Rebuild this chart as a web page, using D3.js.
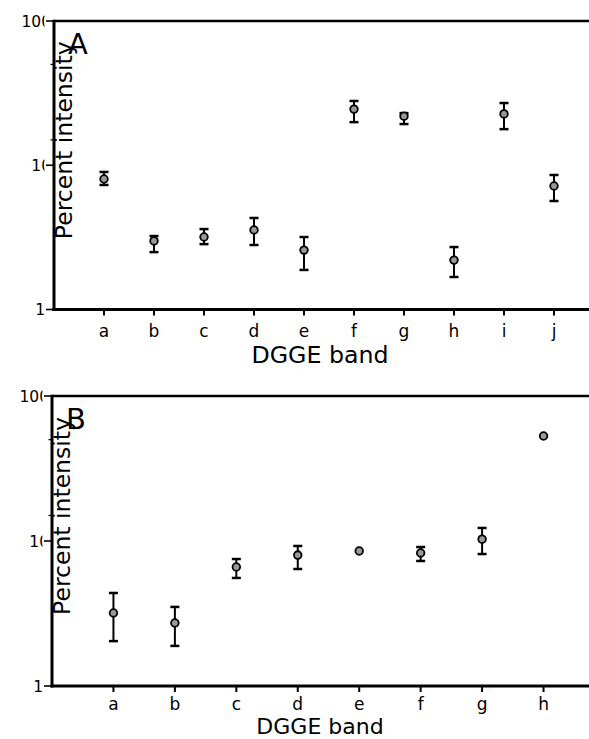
<!DOCTYPE html>
<html>
<head>
<meta charset="utf-8">
<script src="https://cdn.jsdelivr.net/npm/d3@7/dist/d3.min.js"></script>
<style>
  html, body { margin: 0; padding: 0; background: #fff; }
  svg { display: block; font-family: "DejaVu Sans", sans-serif; }
</style>
</head>
<body>
<svg id="chart" width="589" height="739"></svg>
<script>
// ---- data ----
const bandsA = ["a", "b", "c", "d", "e", "f", "g", "h", "i", "j"];
const meanA  = [8.03, 2.99, 3.18, 3.56, 2.58, 24.5, 21.9, 2.20, 22.7, 7.18];
const hiA    = [8.98, 3.23, 3.61, 4.31, 3.18, 27.9, 23.0, 2.71, 27.0, 8.56];
const loA    = [7.30, 2.50, 2.84, 2.80, 1.88, 19.9, 19.3, 1.68, 17.8, 5.65];

const bandsB = ["a", "b", "c", "d", "e", "f", "g", "h"];
const meanB  = [3.19, 2.72, 6.62, 8.00, 8.53, 8.27, 10.3, 53.0];
const hiB    = [4.38, 3.51, 7.51, 9.24, 8.53, 9.09, 12.3, 53.0];
const loB    = [2.04, 1.89, 5.56, 6.41, 8.53, 7.28, 8.13, 53.0];

const yTickValues = [1, 10, 100];
const yMinorTicks = [15, 50];
const panelLabels = ["A", "B"];
const yTitle = "Percent intensity";
const xTitle = "DGGE band";

// ---- layout ----
const svg = d3.select("#chart");
const W = 589, H = 739;

const panels = [
  { label: panelLabels[0], bands: bandsA, mean: meanA, hi: hiA, lo: loA,
    left: 54, top: 21, bottom: 309.5, xMax: 10.7,
    labGap: 27, titleGap: 53.5, titleSize: 23.7 },
  { label: panelLabels[1], bands: bandsB, mean: meanB, hi: hiB, lo: loB,
    left: 52, top: 396, bottom: 686, xMax: 8.74,
    labGap: 23.5, titleGap: 47.5, titleSize: 22 }
];

panels.forEach((p, pi) => {
  const g = svg.append("g");
  const x = d3.scaleLinear().domain([0, p.xMax]).range([p.left, W]);
  const y = d3.scaleLog().domain([1, 100]).range([p.bottom, p.top]);

  // clip for tick labels (mimics truncated labels)
  const clipId = "clipY" + pi;
  svg.append("defs").append("clipPath").attr("id", clipId)
    .append("rect").attr("x", 0).attr("y", p.top - 20)
    .attr("width", p.left - 9.5).attr("height", p.bottom - p.top + 40);

  // y major ticks
  g.selectAll(".ytick").data(yTickValues).enter().append("line")
    .attr("x1", p.left - 8).attr("x2", p.left)
    .attr("y1", d => y(d)).attr("y2", d => y(d))
    .attr("stroke", "#000").attr("stroke-width", 1.6);
  // y minor ticks
  g.selectAll(".ymin").data(yMinorTicks).enter().append("line")
    .attr("x1", p.left - 3.5).attr("x2", p.left)
    .attr("y1", d => y(d)).attr("y2", d => y(d))
    .attr("stroke", "#000").attr("stroke-width", 1.2);
  // y tick labels
  g.append("g").attr("clip-path", `url(#${clipId})`)
    .selectAll("text").data(yTickValues).enter().append("text")
    .attr("x", d => p.left - 3 - (String(d).length === 1 ? 6 : 0))
    .attr("y", d => y(d) + 5.5)
    .attr("text-anchor", "end")
    .attr("font-size", 15.5)
    .text(d => d);

  // x ticks
  const idx = p.bands.map((b, i) => i + 1);
  g.selectAll(".xtick").data(idx).enter().append("line")
    .attr("x1", d => x(d)).attr("x2", d => x(d))
    .attr("y1", p.bottom).attr("y2", p.bottom + 6)
    .attr("stroke", "#000").attr("stroke-width", 2);
  g.selectAll(".xlab").data(p.bands).enter().append("text")
    .attr("x", (d, i) => x(i + 1))
    .attr("y", p.bottom + p.labGap)
    .attr("text-anchor", "middle")
    .attr("font-size", 17)
    .text(d => d);

  // axes frame
  g.append("line").attr("x1", p.left).attr("x2", W)
    .attr("y1", p.top).attr("y2", p.top)
    .attr("stroke", "#000").attr("stroke-width", 2.5);
  g.append("line").attr("x1", p.left).attr("x2", p.left)
    .attr("y1", p.top - 1.2).attr("y2", p.bottom + 1.5)
    .attr("stroke", "#000").attr("stroke-width", 3);
  g.append("line").attr("x1", p.left - 1.5).attr("x2", W)
    .attr("y1", p.bottom).attr("y2", p.bottom)
    .attr("stroke", "#000").attr("stroke-width", 3);

  // y title
  const cy = (p.top + p.bottom) / 2 - 25;
  g.append("text")
    .attr("transform", `translate(${p.left + 17.5},${cy}) rotate(-90)`)
    .attr("text-anchor", "middle")
    .attr("font-size", 23.5)
    .text(yTitle);

  // panel letter
  g.append("text")
    .attr("x", p.left + 14)
    .attr("y", p.top + 33)
    .attr("font-size", 29)
    .text(p.label);

  // x title
  g.append("text")
    .attr("x", 320)
    .attr("y", p.bottom + p.titleGap)
    .attr("text-anchor", "middle")
    .attr("font-size", p.titleSize)
    .text(xTitle);

  // error bars
  const data = p.bands.map((b, i) => ({ i: i + 1, m: p.mean[i], hi: p.hi[i], lo: p.lo[i] }));
  const eb = g.append("g");
  data.forEach(d => {
    if (d.hi > d.m) {
      eb.append("line").attr("x1", x(d.i)).attr("x2", x(d.i))
        .attr("y1", y(d.m)).attr("y2", y(d.hi))
        .attr("stroke", "#000").attr("stroke-width", 2);
      eb.append("line").attr("x1", x(d.i) - 4.5).attr("x2", x(d.i) + 4.5)
        .attr("y1", y(d.hi)).attr("y2", y(d.hi))
        .attr("stroke", "#000").attr("stroke-width", 2.5);
    }
    if (d.lo < d.m) {
      eb.append("line").attr("x1", x(d.i)).attr("x2", x(d.i))
        .attr("y1", y(d.m)).attr("y2", y(d.lo))
        .attr("stroke", "#000").attr("stroke-width", 2);
      eb.append("line").attr("x1", x(d.i) - 4.5).attr("x2", x(d.i) + 4.5)
        .attr("y1", y(d.lo)).attr("y2", y(d.lo))
        .attr("stroke", "#000").attr("stroke-width", 2.5);
    }
  });

  // points
  g.selectAll(".pt").data(data).enter().append("circle")
    .attr("cx", d => x(d.i)).attr("cy", d => y(d.m))
    .attr("r", 3.8)
    .attr("fill", "#999")
    .attr("stroke", "#000").attr("stroke-width", 1.8);
});
</script>
</body>
</html>
